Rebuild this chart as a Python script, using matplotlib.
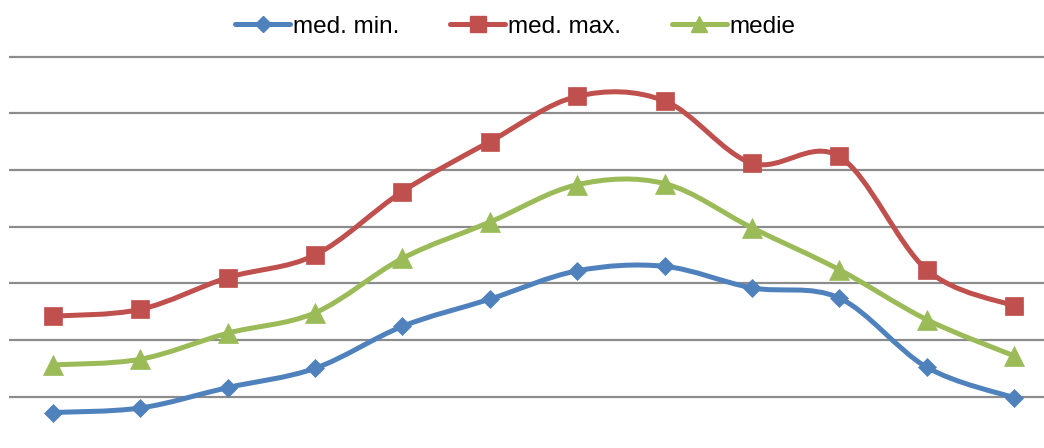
import numpy as np
import matplotlib
matplotlib.use("Agg")
import matplotlib.pyplot as plt
from matplotlib.path import Path
from matplotlib.patches import PathPatch
from matplotlib.lines import Line2D

# monthly temperatures, Jan..Dec
months = ["ian", "feb", "mar", "apr", "mai", "iun", "iul", "aug", "sep", "oct", "nov", "dec"]
med_min = [-6.4, -6.0, -4.2, -2.5, 1.2, 3.6, 6.1, 6.5, 4.6, 3.7, -2.4, -5.1]
med_max = [2.1, 2.7, 5.5, 7.5, 13.1, 17.5, 21.5, 21.1, 15.6, 16.2, 6.2, 3.0]
medie = [-2.2, -1.7, 0.6, 2.4, 7.2, 10.4, 13.7, 13.8, 9.9, 6.2, 1.8, -1.4]

series = [
    ("med. min.", med_min, "#4F81BD", "D", 9.6),
    ("med. max.", med_max, "#C0504D", "s", 13.5),
    ("medie", medie, "#9BBB59", "^", 14),
]


def smooth_path(x, y):
    # cardinal spline through the points, drawn as cubic bezier segments
    pts = np.column_stack([x, y]).astype(float)
    n = len(pts)
    verts = [pts[0]]
    codes = [Path.MOVETO]
    for i in range(n - 1):
        p0 = pts[i - 1] if i > 0 else pts[i]
        p1 = pts[i]
        p2 = pts[i + 1]
        p3 = pts[i + 2] if i + 2 < n else pts[i + 1]
        c1 = p1 + (p2 - p0) / 6.0
        c2 = p2 - (p3 - p1) / 6.0
        verts += [c1, c2, p2]
        codes += [Path.CURVE4] * 3
    return Path(verts, codes)


plt.rcParams['font.family'] = ['Liberation Sans', 'DejaVu Sans']

fig = plt.figure(figsize=(10.44, 4.48), dpi=100)
# plot area runs a little past the right and bottom edges
ax = fig.add_axes([9.3 / 1044, -5.3 / 448, 1048.4 / 1044, 402.3 / 448])

x = np.arange(len(months))
handles = []
for name, vals, col, mk, ms in series:
    ax.add_patch(PathPatch(smooth_path(x, vals), fill=False, edgecolor=col,
                           lw=3.6, capstyle='round', joinstyle='round', zorder=3))
    ax.plot(x, vals, ls='none', marker=mk, ms=ms, color=col, mec=col, mew=0.5, zorder=4)
    handles.append(Line2D([], [], color=col, lw=3.6, marker=mk, ms=ms * 0.85,
                          mec=col, solid_capstyle='round'))

ax.set_xlim(-0.5, 11.5)
ax.set_ylim(-10, 25.5)
ax.set_yticks(np.arange(-5, 26, 5))
ax.yaxis.grid(True, color='#8c8c8c', lw=1.6)
ax.set_axisbelow(True)
ax.tick_params(left=False, bottom=False, labelleft=False, labelbottom=False)
for s in ax.spines.values():
    s.set_visible(False)

fig.legend(handles, [s[0] for s in series], loc='center', bbox_to_anchor=(515.5 / 1044, 1 - 27 / 448),
           ncol=3, frameon=False, fontsize=17.5, handlelength=2.25, handletextpad=0.12,
           columnspacing=2.1)

fig.savefig("out.png", dpi=100)
